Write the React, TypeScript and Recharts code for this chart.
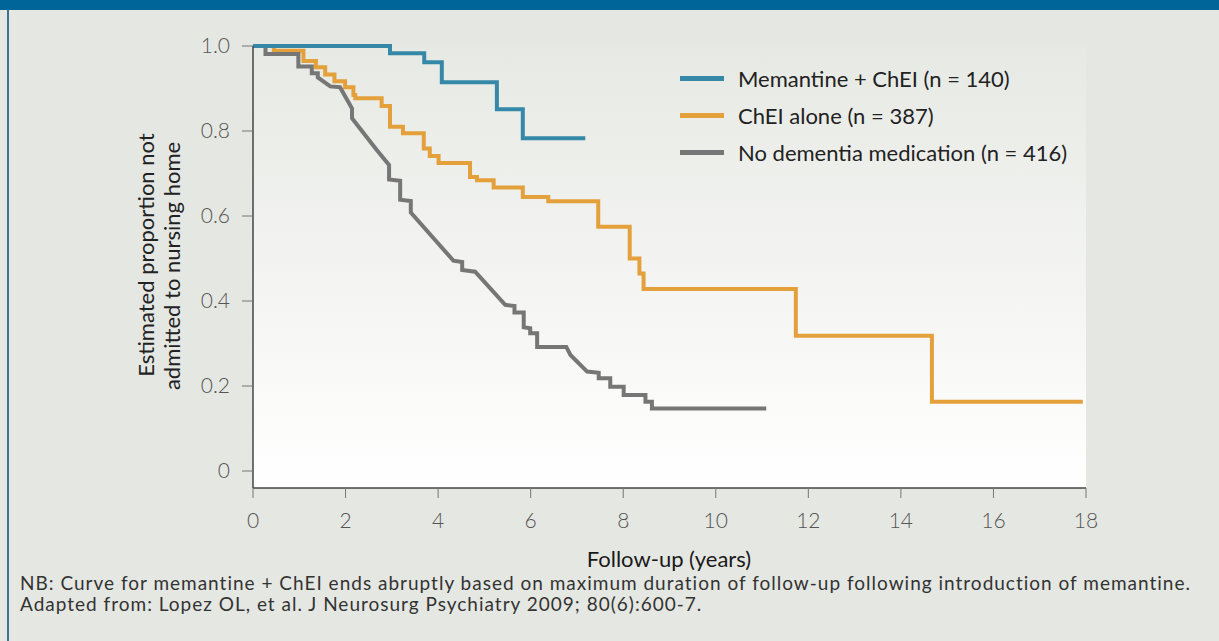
import { LineChart, Line, XAxis, YAxis, CartesianGrid } from "recharts"

// follow-up in years, estimated proportion not admitted
const memantineChei = [
    [0, 1.0], [2.96, 0.983], [3.7, 0.962], [4.08, 0.915], [5.27, 0.851], [5.83, 0.783], [7.18, 0.783],
]

const cheiAlone = [
    [0, 1.0], [0.45, 0.989], [1.09, 0.965], [1.36, 0.95], [1.56, 0.933], [1.76, 0.917], [1.99, 0.903],
    [2.17, 0.885], [2.21, 0.877], [2.78, 0.859], [2.96, 0.81], [3.24, 0.795], [3.69, 0.759], [3.82, 0.741],
    [4.01, 0.725], [4.69, 0.692], [4.84, 0.684], [5.2, 0.667], [5.83, 0.645], [6.38, 0.635], [7.46, 0.575],
    [8.14, 0.5], [8.35, 0.465], [8.44, 0.428], [11.73, 0.318], [14.67, 0.163], [17.93, 0.163],
]

// dense events, drawn point to point
const noMedication = [
    [0, 1.0], [0.27, 1.0], [0.27, 0.981], [0.98, 0.981], [0.98, 0.952], [1.27, 0.952], [1.27, 0.936],
    [1.4, 0.936], [1.4, 0.926], [1.67, 0.905], [1.88, 0.903], [2.14, 0.853], [2.14, 0.83], [2.67, 0.756],
    [2.94, 0.72], [2.94, 0.686], [3.18, 0.683], [3.18, 0.638], [3.41, 0.635], [3.41, 0.608], [4.33, 0.495],
    [4.52, 0.492], [4.52, 0.473], [4.8, 0.469], [5.45, 0.391], [5.65, 0.388], [5.65, 0.373], [5.85, 0.373],
    [5.85, 0.338], [5.99, 0.336], [5.99, 0.324], [6.14, 0.324], [6.14, 0.292], [6.77, 0.292], [6.86, 0.273],
    [7.22, 0.234], [7.47, 0.231], [7.47, 0.218], [7.72, 0.218], [7.72, 0.198], [8.01, 0.198], [8.01, 0.179],
    [8.48, 0.179], [8.48, 0.163], [8.62, 0.163], [8.62, 0.147], [11.09, 0.147],
]

const xTicks = [0, 2, 4, 6, 8, 10, 12, 14, 16, 18]
const yTicks = [0, 0.2, 0.4, 0.6, 0.8, 1.0]

const legendItems = [
    { label: "Memantine + ChEI (n = 140)", color: "#3688a8" },
    { label: "ChEI alone (n = 387)", color: "#e3a03b" },
    { label: "No dementia medication (n = 416)", color: "#767676" },
]

const notes = [
    "NB: Curve for memantine + ChEI ends abruptly based on maximum duration of follow-up following introduction of memantine.",
    "Adapted from: Lopez OL, et al. J Neurosurg Psychiatry 2009; 80(6):600-7.",
]

const toRows = (pts: number[][]) => pts.map(([t, v]) => ({ t, v }))

const font = "Lato, 'Open Sans', sans-serif"

function YTitle() {
    return (
        <g fontFamily={font} fontSize={22} fill="#222">
            <text x={145} y={255} transform="rotate(-90 145 255)" textAnchor="middle" dominantBaseline="central">
                Estimated proportion not
            </text>
            <text x={171} y={266} transform="rotate(-90 171 266)" textAnchor="middle" dominantBaseline="central">
                admitted to nursing home
            </text>
        </g>
    )
}

export default function App() {
    return (
        <div style={{ position: "absolute", left: 0, top: 0, width: 1219, height: 641, background: "#e5e7e2", overflow: "hidden", fontFamily: font }}>
            <div style={{ position: "absolute", left: 0, top: 0, width: 1219, height: 10, background: "#00669a" }} />
            <div style={{ position: "absolute", left: 7, top: 10, width: 1.5, height: 631, background: "#3d7397" }} />
            <LineChart
                width={1219}
                height={641}
                margin={{ top: 46, right: 133, bottom: 113, left: 173 }}
                style={{ position: "absolute", left: 0, top: 0 }}
            >
                <defs>
                    <linearGradient id="plotBg" x1="0" y1="0" x2="0" y2="1">
                        <stop offset="0%" stopColor="#e7e9e4" />
                        <stop offset="100%" stopColor="#ffffff" />
                    </linearGradient>
                </defs>
                <CartesianGrid horizontal={false} vertical={false} fill="url(#plotBg)" fillOpacity={1} stroke="none" />
                <XAxis
                    type="number"
                    dataKey="t"
                    domain={[0, 18]}
                    ticks={xTicks}
                    height={40}
                    tickSize={10}
                    tickMargin={15}
                    stroke="#444"
                    strokeWidth={1.5}
                    tick={{ fill: "#555", fontSize: 21, fontWeight: 300, fontFamily: font }}
                    tickLine={{ stroke: "#777", strokeWidth: 1 }}
                    allowDuplicatedCategory={false}
                />
                <YAxis
                    type="number"
                    domain={[-0.04, 1]}
                    ticks={yTicks}
                    width={80}
                    tickSize={11}
                    tickMargin={12}
                    stroke="#444"
                    strokeWidth={1.5}
                    tickFormatter={(v: number) => (v === 0 ? "0" : v.toFixed(1))}
                    tick={{ fill: "#555", fontSize: 21, fontWeight: 300, fontFamily: font }}
                    tickLine={{ stroke: "#777", strokeWidth: 1 }}
                    label={{ content: () => <YTitle /> }}
                />
                <Line data={toRows(cheiAlone)} dataKey="v" type="stepAfter" stroke="#e3a03b" strokeWidth={4} dot={false} isAnimationActive={false} />
                <Line data={toRows(noMedication)} dataKey="v" type="linear" stroke="#767676" strokeWidth={4} dot={false} isAnimationActive={false} />
                <Line data={toRows(memantineChei)} dataKey="v" type="stepAfter" stroke="#3688a8" strokeWidth={4} dot={false} isAnimationActive={false} />
            </LineChart>

            <div style={{ position: "absolute", left: 680, top: 60 }}>
                {legendItems.map((item) => (
                    <div key={item.label} style={{ display: "flex", alignItems: "center", height: 37 }}>
                        <div style={{ width: 44, height: 5, background: item.color, marginRight: 14 }} />
                        <span style={{ fontSize: 22, color: "#222", whiteSpace: "nowrap" }}>{item.label}</span>
                    </div>
                ))}
            </div>

            <div style={{ position: "absolute", left: 469, width: 400, top: 545, textAlign: "center", fontSize: 22, color: "#1a1a1a" }}>
                Follow-up (years)
            </div>

            {notes.map((note, i) => (
                <div
                    key={i}
                    style={{
                        position: "absolute", left: 20, top: 572 + i * 21, fontSize: 19, lineHeight: "21px",
                        letterSpacing: 1, color: "#333", whiteSpace: "nowrap",
                    }}
                >
                    {note}
                </div>
            ))}
        </div>
    )
}
